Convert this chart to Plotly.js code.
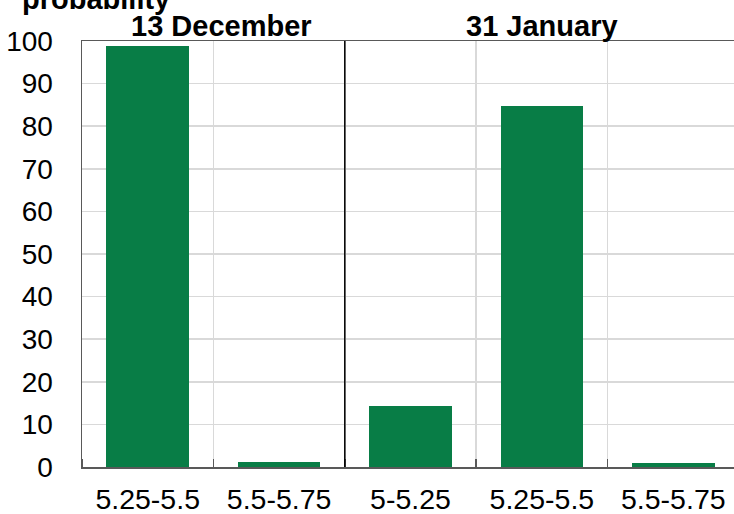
<!DOCTYPE html>
<html>
<head>
<meta charset="utf-8">
<script src="https://cdn.plot.ly/plotly-3.0.1.min.js"></script>
<style>
html,body{margin:0;padding:0;overflow:hidden;background:#fff;}
#chart{width:740px;height:514px;}
</style>
</head>
<body>
<div id="chart"></div>
<script>
// Data
const categories = ['5.25-5.5', '5.5-5.75', '5-5.25', '5.25-5.5', '5.5-5.75'];
const probability = [98.9, 1.2, 14.3, 84.7, 1.0];
const groupNames = ['13 December', '31 January'];
const groupSizes = [2, 3];
const yTitle = 'probability';

const xIdx = categories.map((_, i) => i);

// group centres and boundaries from the group sizes
const groupCentres = [];
const groupBounds = [];
let start = 0;
groupSizes.forEach(n => {
  groupCentres.push(start + (n - 1) / 2);
  start += n;
  groupBounds.push(start - 0.5);
});

const FONT = 'Arial, "Liberation Sans", sans-serif';

const trace = {
  type: 'bar',
  x: xIdx,
  y: probability,
  width: 0.63,
  marker: {color: '#087d46', line: {width: 0}},
  hoverinfo: 'x+y'
};

const annotations = groupNames.map((g, i) => ({
  text: '<b>' + g + '</b>',
  xref: 'x', yref: 'paper',
  x: groupCentres[i], y: 1,
  xanchor: 'center', yanchor: 'bottom',
  xshift: i === 0 ? 8 : 0,
  yshift: -3,
  showarrow: false,
  font: {family: FONT, size: 29, color: '#000'}
}));
annotations.push({
  text: '<b>' + yTitle + '</b>',
  xref: 'paper', yref: 'paper',
  x: -0.094, y: 1.063,
  xanchor: 'left', yanchor: 'bottom',
  yshift: -3,
  showarrow: false,
  font: {family: FONT, size: 29, color: '#000'}
});

const layout = {
  width: 740, height: 514,
  margin: {l: 82, r: 1, t: 41, b: 47},
  paper_bgcolor: '#fff', plot_bgcolor: '#fff',
  showlegend: false,
  font: {family: FONT, size: 28, color: '#000'},
  xaxis: {
    range: [-0.5, categories.length - 0.5],
    tickmode: 'array', tickvals: xIdx, ticktext: categories,
    ticks: '', showgrid: false, zeroline: false,
    showline: true, mirror: true, linecolor: '#595959', linewidth: 1.5,
    ticklabelstandoff: 6,
    tickfont: {family: FONT, size: 28.5, color: '#000'},
    minor: {tick0: 0.5, dtick: 1, showgrid: true, gridcolor: '#d9d9d9', gridwidth: 1.5,
            ticks: 'inside', ticklen: 8, tickcolor: '#595959', tickwidth: 1.5}
  },
  yaxis: {
    range: [0, 100], dtick: 10, tick0: 0,
    showgrid: true, gridcolor: '#d9d9d9', gridwidth: 1.5,
    zeroline: false, showline: true, linecolor: '#595959', linewidth: 1.5,
    ticks: '', ticklabelstandoff: 22,
    tickfont: {family: FONT, size: 28, color: '#000'}
  },
  shapes: groupBounds.slice(0, -1).map(b => ({
    type: 'line', xref: 'x', yref: 'paper',
    x0: b, x1: b, y0: 0, y1: 1,
    line: {color: '#000', width: 1.5}
  })),
  annotations: annotations,
  bargap: 0
};

Plotly.newPlot('chart', [trace], layout, {displayModeBar: false, staticPlot: true});
</script>
</body>
</html>
